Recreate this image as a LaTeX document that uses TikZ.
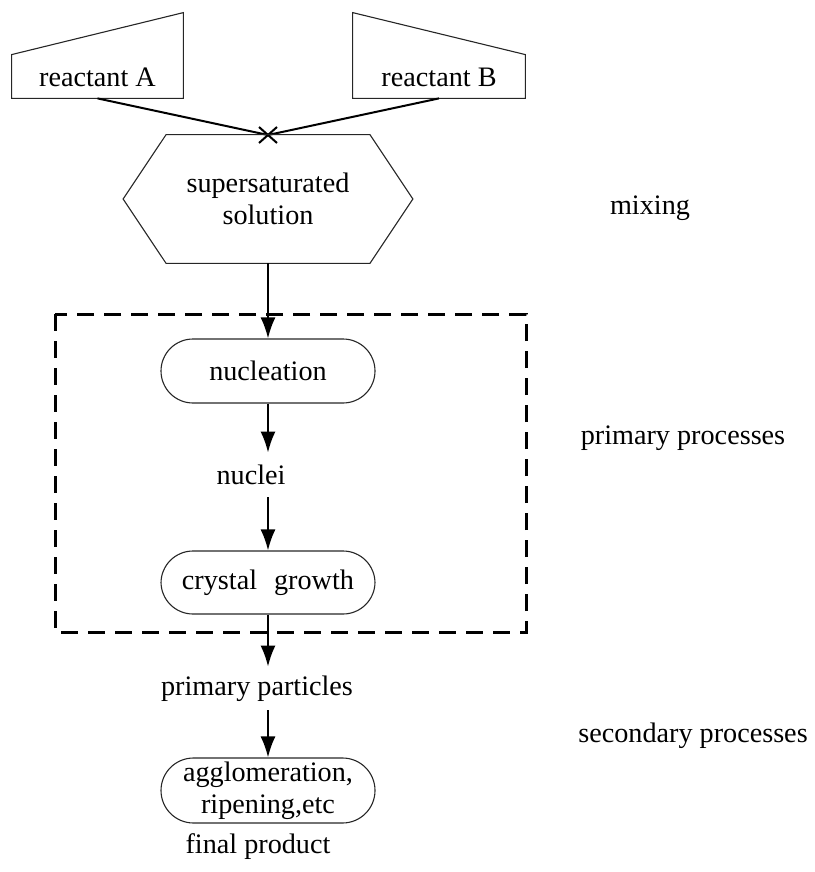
\documentclass[tikz,border=0pt]{standalone}
\usepackage{fontspec}
\setmainfont{Liberation Serif}
\usetikzlibrary{arrows.meta}
\begin{document}
\begin{tikzpicture}[x=0.5pt,y=-0.5pt,
  every node/.style={font=\fontsize{14.1}{16}\selectfont, align=center},
  outline/.style={draw=black!85, line width=0.55pt},
  stadium/.style={outline, rectangle, rounded corners=16pt, minimum width=107pt, minimum height=32pt, inner sep=0pt},
  ghost/.style={inner sep=0pt, minimum width=0pt},
  conn/.style={line width=1pt},
  arr/.style={conn, -{Latex[length=10.5pt,width=7.5pt]}},
  dashbox/.style={line width=1.5pt, dash pattern=on 8.5pt off 5pt}]
\useasboundingbox (0,0) rectangle (814,872);
% reactant boxes
\node[ghost, minimum width=85.5pt, minimum height=42.5pt] (ra) at (97.5,55.5) {};
\draw[outline] (ra.south west) -- (ra.south east) -- (ra.north east) -- ([yshift=-21pt]ra.north west) -- cycle;
\node (ta) at (97.5,77) {reactant A};
\node[ghost, minimum width=86pt, minimum height=42.5pt] (rb) at (439,55.5) {};
\draw[outline] (rb.south east) -- (rb.south west) -- (rb.north west) -- ([yshift=-21pt]rb.north east) -- cycle;
\node (tb) at (439,77) {reactant B};
% mixing point
\coordinate (mix) at (268,135);
\draw[conn] (ra.south) -- (mix);
\draw[conn] (rb.south) -- (mix);
\draw[conn] ([xshift=-4.5pt,yshift=4pt]mix) -- ([xshift=4.5pt,yshift=-4pt]mix)
            ([xshift=-4.5pt,yshift=-4pt]mix) -- ([xshift=4.5pt,yshift=4pt]mix);
% hexagon
\node[ghost, minimum width=101.5pt, minimum height=64pt] (hex) at (268,199) {supersaturated\\solution};
\draw[outline] (hex.north west) -- (hex.north east) -- ([xshift=21.5pt]hex.east) -- (hex.south east)
   -- (hex.south west) -- ([xshift=-21.5pt]hex.west) -- cycle;
% dashed frame
\draw[dashbox] (55,314) rectangle (526,632);
% flow
\node[stadium] (nuc) at (268,371) {nucleation};
\node[ghost, minimum height=22pt] (nuclei) at (251,475) {nuclei};
\node[stadium, minimum height=31.5pt] (cg) at (268,582.5) {crystal\hspace{8.5pt}growth};
\node[ghost, minimum height=21.5pt] (pp) at (257,688.5) {primary particles};
\node[stadium, minimum height=32.5pt, rounded corners=16.25pt] (ag) at (268,790.5) {agglomeration,\\ripening,etc};
\node (fp) at (258,847) {final product};
\draw[arr] (hex.south) -- (nuc.north);
\draw[arr] (nuc.south) -- (nuc.south |- nuclei.north);
\draw[arr] (nuc.south |- nuclei.south) -- (cg.north);
\draw[arr] (cg.south) -- (cg.south |- pp.north);
\draw[arr] (cg.south |- pp.south) -- (ag.north);
% side labels
\node (lmix) at (650,208) {mixing};
\node (lpri) at (683,438) {primary processes};
\node (lsec) at (693,736) {secondary processes};
\end{tikzpicture}
\end{document}
